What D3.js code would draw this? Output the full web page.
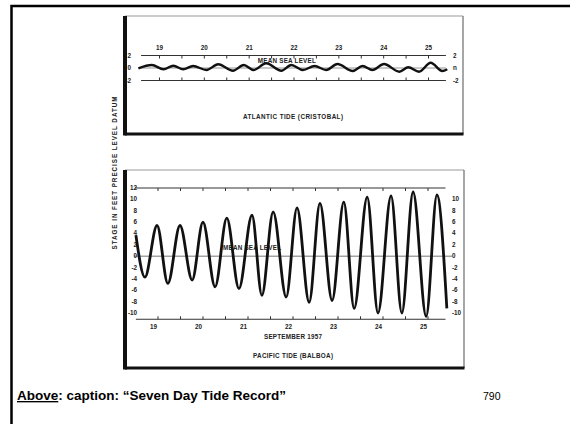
<!DOCTYPE html>
<head>
  <meta charset="utf-8">
  <style>
    body { margin: 0; background: #fff; }
    svg { display: block; font-family: "Liberation Sans", Arial, sans-serif; }
    .small { font-family: "Liberation Sans Narrow", "Liberation Sans", sans-serif; font-size: 6.3px; font-weight: bold; fill: #222; }
  </style>
</head>
<svg width="570" height="424"></svg>
<script src="https://d3js.org/d3.v7.min.js"></script>
<script>
  // day labels (September 1957)
  const days = [19, 20, 21, 22, 23, 24, 25];
  const halfDays = [19, 19.5, 20, 20.5, 21, 21.5, 22, 22.5, 23, 23.5, 24, 24.5, 25];

  // Atlantic tide (Cristobal): times in days, stage in feet
  const atlanticT = [18.54, 18.84, 19.1, 19.32, 19.54, 19.76, 20.06, 20.32, 20.65, 20.89, 21.11, 21.39,
    21.73, 21.95, 22.21, 22.47, 22.73, 22.98, 23.32, 23.54, 23.76, 24.02, 24.36, 24.56, 24.8, 25.06, 25.32, 25.43];
  const atlanticH = [-0.05, 0.48, -0.2, 0.37, -0.2, 0.32, -0.32, 0.59, -0.43, 0.48, -0.32, 0.75,
    -0.43, 0.48, -0.32, 0.32, -0.32, 0.64, -0.48, 0.32, -0.32, 0.64, -0.59, 0.11, -0.59, 0.85, -0.48, -0.2];
  const atlanticTicks = [2, 0, -2];

  // Pacific tide (Balboa)
  const pacificT = [18.62, 18.82, 19.09, 19.33, 19.6, 19.87, 20.11, 20.38, 20.64, 20.91, 21.2, 21.42, 21.67,
    21.96, 22.2, 22.47, 22.71, 22.98, 23.24, 23.47, 23.76, 24.0, 24.29, 24.53, 24.78, 25.07, 25.31, 25.53];
  const pacificH = [3.7, -3.7, 5.4, -4.8, 5.4, -4.2, 6.0, -5.4, 6.7, -5.7, 7.2, -6.9, 7.8,
    -7.2, 8.5, -8.1, 9.3, -7.8, 9.5, -9.2, 10.4, -10, 10.6, -10, 11.3, -10.6, 10.8, -9.2];
  const pacificLeftTicks = [12, 10, 8, 6, 4, 2, 0, -2, -4, -6, -8, -10];
  const pacificRightTicks = [10, 8, 6, 4, 2, 0, -2, -4, -6, -8, -10];

  const svg = d3.select("svg");

  // slide frame
  svg.append("path")
    .attr("d", "M11.5,424 V6 H570")
    .attr("fill", "none").attr("stroke", "#000").attr("stroke-width", 2.5);

  function panelFrame(x0, y0, x1, y1) {
    const g = svg.append("g");
    g.append("line").attr("x1", x0).attr("y1", y0).attr("x2", x1).attr("y2", y0)
      .attr("stroke", "#999").attr("stroke-width", 1);
    g.append("line").attr("x1", x1).attr("y1", y0).attr("x2", x1).attr("y2", y1)
      .attr("stroke", "#777").attr("stroke-width", 1.3);
    g.append("line").attr("x1", x0).attr("y1", y1).attr("x2", x1 + 0.5).attr("y2", y1)
      .attr("stroke", "#111").attr("stroke-width", 3);
    g.append("line").attr("x1", x0).attr("y1", y0).attr("x2", x0).attr("y2", y1 + 1.5)
      .attr("stroke", "#111").attr("stroke-width", 4);
  }
  panelFrame(125, 16, 463, 134);
  panelFrame(125, 170, 464, 368);

  // ---------- Atlantic panel ----------
  const xTop = d3.scaleLinear().domain([19, 25]).range([159, 428]);
  const yTop = d3.scaleLinear().domain([-2, 2]).range([80.5, 55.5]);
  const gTop = svg.append("g");

  [[2, "#333", 1], [0, "#777", 0.8], [-2, "#333", 1]].forEach(function(d) {
    gTop.append("line")
      .attr("x1", xTop(18.6)).attr("x2", xTop(25.4))
      .attr("y1", yTop(d[0])).attr("y2", yTop(d[0]))
      .attr("stroke", d[1]).attr("stroke-width", d[2]);
  });

  gTop.append("g").attr("transform", "translate(0," + yTop(2) + ")")
    .call(d3.axisTop(xTop).tickValues(halfDays).tickSize(-3).tickPadding(6)
      .tickFormat(d => Number.isInteger(d) ? d : ""))
    .call(g => g.select(".domain").remove())
    .call(g => g.selectAll("line").attr("stroke", "#333"))
    .call(g => g.selectAll("text").attr("class", "small").attr("font-family", null).attr("font-size", null));

  gTop.append("g").attr("transform", "translate(0," + yTop(-2) + ")")
    .call(d3.axisBottom(xTop).tickValues(halfDays).tickSize(-3).tickFormat(""))
    .call(g => g.select(".domain").remove())
    .call(g => g.selectAll("line").attr("stroke", "#333"));

  gTop.selectAll(".ylab-l").data(atlanticTicks).enter().append("text")
    .attr("class", "small").attr("x", 131).attr("y", d => yTop(d) + 2)
    .attr("text-anchor", "end").text(d => d);
  gTop.selectAll(".ylab-r").data(atlanticTicks).enter().append("text")
    .attr("class", "small").attr("x", 453).attr("y", d => yTop(d) + 2)
    .text(d => d === 0 ? "n" : d);

  gTop.append("text").attr("class", "small")
    .attr("x", xTop(21.85)).attr("y", yTop(0.8)).attr("text-anchor", "middle")
    .attr("textLength", 58).text("MEAN SEA LEVEL");

  gTop.append("path")
    .datum(d3.range(atlanticT.length))
    .attr("fill", "none").attr("stroke", "#111").attr("stroke-width", 2.4)
    .attr("d", d3.line().x(i => xTop(atlanticT[i])).y(i => yTop(atlanticH[i])).curve(d3.curveMonotoneX));

  gTop.append("text").attr("class", "small")
    .attr("x", 293).attr("y", 119).attr("text-anchor", "middle")
    .attr("textLength", 100).text("ATLANTIC TIDE (CRISTOBAL)");

  // ---------- Pacific panel ----------
  const xBot = d3.scaleLinear().domain([19, 25]).range([153, 423]);
  const yBot = d3.scaleLinear().domain([-10, 12]).range([313, 188]);
  const gBot = svg.append("g");

  gBot.append("line")
    .attr("x1", xBot(18.6)).attr("x2", xBot(25.5))
    .attr("y1", yBot(12)).attr("y2", yBot(12))
    .attr("stroke", "#333").attr("stroke-width", 1);
  gBot.append("line")
    .attr("x1", xBot(18.58)).attr("x2", xBot(25.65))
    .attr("y1", yBot(0)).attr("y2", yBot(0))
    .attr("stroke", "#666").attr("stroke-width", 0.9);
  gBot.append("line")
    .attr("x1", xBot(18.62)).attr("x2", xBot(25.5))
    .attr("y1", yBot(-11.1)).attr("y2", yBot(-11.1))
    .attr("stroke", "#333").attr("stroke-width", 1);

  gBot.append("g").attr("transform", "translate(0," + yBot(12) + ")")
    .call(d3.axisBottom(xBot).tickValues(halfDays.map(d => d + 0.1)).tickSize(3).tickFormat(""))
    .call(g => g.select(".domain").remove())
    .call(g => g.selectAll("line").attr("stroke", "#333"));

  gBot.append("g").attr("transform", "translate(0," + yBot(-11.1) + ")")
    .call(d3.axisBottom(xBot).tickValues(halfDays).tickSize(0).tickPadding(5)
      .tickFormat(d => Number.isInteger(d) ? d : ""))
    .call(g => g.select(".domain").remove())
    .call(g => g.selectAll("text").attr("class", "small").attr("font-family", null).attr("font-size", null));

  gBot.append("g").attr("transform", "translate(0," + yBot(-11.1) + ")")
    .call(d3.axisTop(xBot).tickValues(halfDays.map(d => d + 0.1)).tickSize(3).tickFormat(""))
    .call(g => g.select(".domain").remove())
    .call(g => g.selectAll("line").attr("stroke", "#333"));

  gBot.selectAll(".yl").data(pacificLeftTicks).enter().append("text")
    .attr("class", "small").attr("x", 137).attr("y", d => yBot(d) + 2)
    .attr("text-anchor", "end").text(d => d);
  gBot.selectAll(".yr").data(pacificRightTicks).enter().append("text")
    .attr("class", "small").attr("x", 452).attr("y", d => yBot(d) + 2)
    .text(d => d);

  gBot.append("text").attr("class", "small")
    .attr("x", xBot(21.2)).attr("y", yBot(1.1)).attr("text-anchor", "middle")
    .attr("textLength", 58).text("MEAN SEA LEVEL");

  gBot.append("path")
    .datum(d3.range(pacificT.length))
    .attr("fill", "none").attr("stroke", "#111").attr("stroke-width", 2.8)
    .attr("d", d3.line().x(i => xBot(pacificT[i])).y(i => yBot(pacificH[i])).curve(d3.curveMonotoneX));

  gBot.append("text").attr("class", "small")
    .attr("x", 293).attr("y", 339).attr("text-anchor", "middle")
    .attr("textLength", 58).text("SEPTEMBER 1957");
  gBot.append("text").attr("class", "small")
    .attr("x", 293).attr("y", 358).attr("text-anchor", "middle")
    .attr("textLength", 80).text("PACIFIC TIDE (BALBOA)");

  // shared y-axis title
  svg.append("text").attr("class", "small")
    .attr("transform", "translate(117,173) rotate(-90)")
    .attr("text-anchor", "middle").attr("textLength", 153)
    .text("STAGE IN FEET PRECISE LEVEL DATUM");

  // caption
  const cap = svg.append("text")
    .attr("x", 17).attr("y", 400)
    .style("font-size", "13.5px").style("font-weight", "bold").attr("fill", "#000");
  cap.append("tspan").style("text-decoration", "underline").text("Above");
  cap.append("tspan").text(": caption: \u201cSeven Day Tide Record\u201d");

  svg.append("text").attr("x", 483).attr("y", 400)
    .style("font-size", "10.5px").attr("fill", "#000").text("790");
</script>
